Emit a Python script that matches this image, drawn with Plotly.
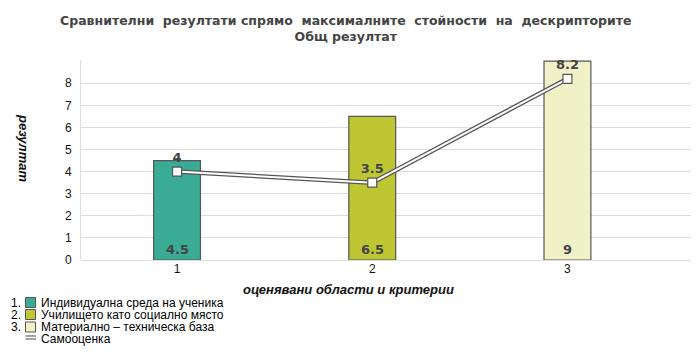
import plotly.graph_objects as go

# ---- data ----
categories = [1, 2, 3]
max_values = [4.5, 6.5, 9]
self_eval = [4, 3.5, 8.2]
series_names = ["Индивидуална среда на ученика",
                "Училището като социално място",
                "Материално – техническа база"]
line_name = "Самооценка"
bar_colors = ["#3aab95", "#bfc634", "#f1f1c8"]
y_ticks = [0, 1, 2, 3, 4, 5, 6, 7, 8]

title_l1 = "Сравнителни  резултати спрямо  максималните  стойности  на  дескрипторите"
title_l2 = "Общ резултат"
x_title = "оценявани области и критерии"
y_title = "резултат"

W, H = 700, 356
L, R, T, B = 81, 9, 60, 96
pw, ph = W - L - R, H - T - B

def px(x):
    return (x - L) / pw

def py(y):
    return (H - B - y) / ph

fig = go.Figure()

for i, c in enumerate(categories):
    fig.add_trace(go.Bar(
        x=[c], y=[max_values[i]], width=0.24,
        marker=dict(color=bar_colors[i], line=dict(color="#555555", width=1.2)),
        name=series_names[i], showlegend=False, hoverinfo="y"))

# double line: dark outline + white core
fig.add_trace(go.Scatter(
    x=categories, y=self_eval, mode="lines",
    line=dict(color="#555555", width=4.5), showlegend=False, hoverinfo="skip"))
fig.add_trace(go.Scatter(
    x=categories, y=self_eval, mode="lines+markers+text",
    line=dict(color="#ffffff", width=2),
    marker=dict(symbol="square", size=9, color="#ffffff",
                line=dict(color="#555555", width=1.2)),
    text=[f"<b>{v:g}</b>" for v in self_eval], textposition="top center",
    textfont=dict(family="DejaVu Sans", size=13, color="#444444"),
    name=line_name, showlegend=False))

annotations = []
for c, v in zip(categories, max_values):
    annotations.append(dict(x=c, y=0, xref="x", yref="y", text=f"<b>{v:g}</b>",
                            showarrow=False, xanchor="center", yanchor="bottom", yshift=1,
                            font=dict(family="DejaVu Sans", size=13, color="#444444")))

# axis titles
annotations.append(dict(x=px(348), y=py(289), xref="paper", yref="paper",
                        text=f"<b><i>{x_title}</i></b>", showarrow=False,
                        xanchor="center", yanchor="middle",
                        font=dict(family="Liberation Sans", size=13, color="#111111")))
annotations.append(dict(x=px(24), y=py(148), xref="paper", yref="paper",
                        text=f"<b><i>{y_title}</i></b>", showarrow=False, textangle=90,
                        xanchor="center", yanchor="middle",
                        font=dict(family="Liberation Sans", size=13, color="#111111")))

# custom legend
shapes = []
row_y = [302.5, 314.5, 327, 339]
lf = dict(family="Liberation Sans", size=12, color="#000000")
for i, name in enumerate(series_names):
    yc = row_y[i]
    annotations.append(dict(x=px(23), y=py(yc), xref="paper", yref="paper",
                            text=f"{i+1}.", showarrow=False, xanchor="right",
                            yanchor="middle", font=lf))
    shapes.append(dict(type="rect", xref="paper", yref="paper",
                       x0=px(25.5), x1=px(35.5), y0=py(yc - 5), y1=py(yc + 5),
                       fillcolor=bar_colors[i], line=dict(color="#555555", width=1)))
    annotations.append(dict(x=px(39), y=py(yc), xref="paper", yref="paper",
                            text=name, showarrow=False, xanchor="left",
                            yanchor="middle", font=lf))
yc = row_y[3]
for dy in (-1.5, 1.5):
    shapes.append(dict(type="line", xref="paper", yref="paper",
                       x0=px(25.5), x1=px(36), y0=py(yc - 1.5 + dy), y1=py(yc - 1.5 + dy),
                       line=dict(color="#444444", width=1)))
annotations.append(dict(x=px(39), y=py(yc), xref="paper", yref="paper",
                        text=line_name, showarrow=False, xanchor="left",
                        yanchor="middle", font=lf))

fig.update_layout(
    width=W, height=H,
    margin=dict(l=L, r=R, t=T, b=B, pad=0),
    paper_bgcolor="white", plot_bgcolor="white",
    showlegend=False,
    title=dict(text=f"<b>{title_l1}<br>{title_l2}</b>", x=0.494, xanchor="center",
               y=1 - 25 / H, yanchor="top", xref="container", yref="container",
               font=dict(family="DejaVu Sans", size=12.5, color="#444444")),
    xaxis=dict(range=[0.508, 3.633], tickvals=categories, ticktext=[str(c) for c in categories],
               showgrid=False, zeroline=False, showline=False, ticks="",
               tickfont=dict(family="Liberation Sans", size=12, color="#111111")),
    yaxis=dict(range=[0, 9.05], tickvals=y_ticks, showgrid=True, gridcolor="#dddddd",
               zeroline=True, zerolinecolor="#dddddd", zerolinewidth=1,
               showline=True, linecolor="#dddddd", linewidth=1,
               ticks="outside", ticklen=6, tickcolor="rgba(0,0,0,0)",
               tickfont=dict(family="Liberation Sans", size=12, color="#111111")),
    annotations=annotations, shapes=shapes,
)

fig.write_html("out.html", config={"displayModeBar": False},
               post_script="document.body.style.margin='0';")
